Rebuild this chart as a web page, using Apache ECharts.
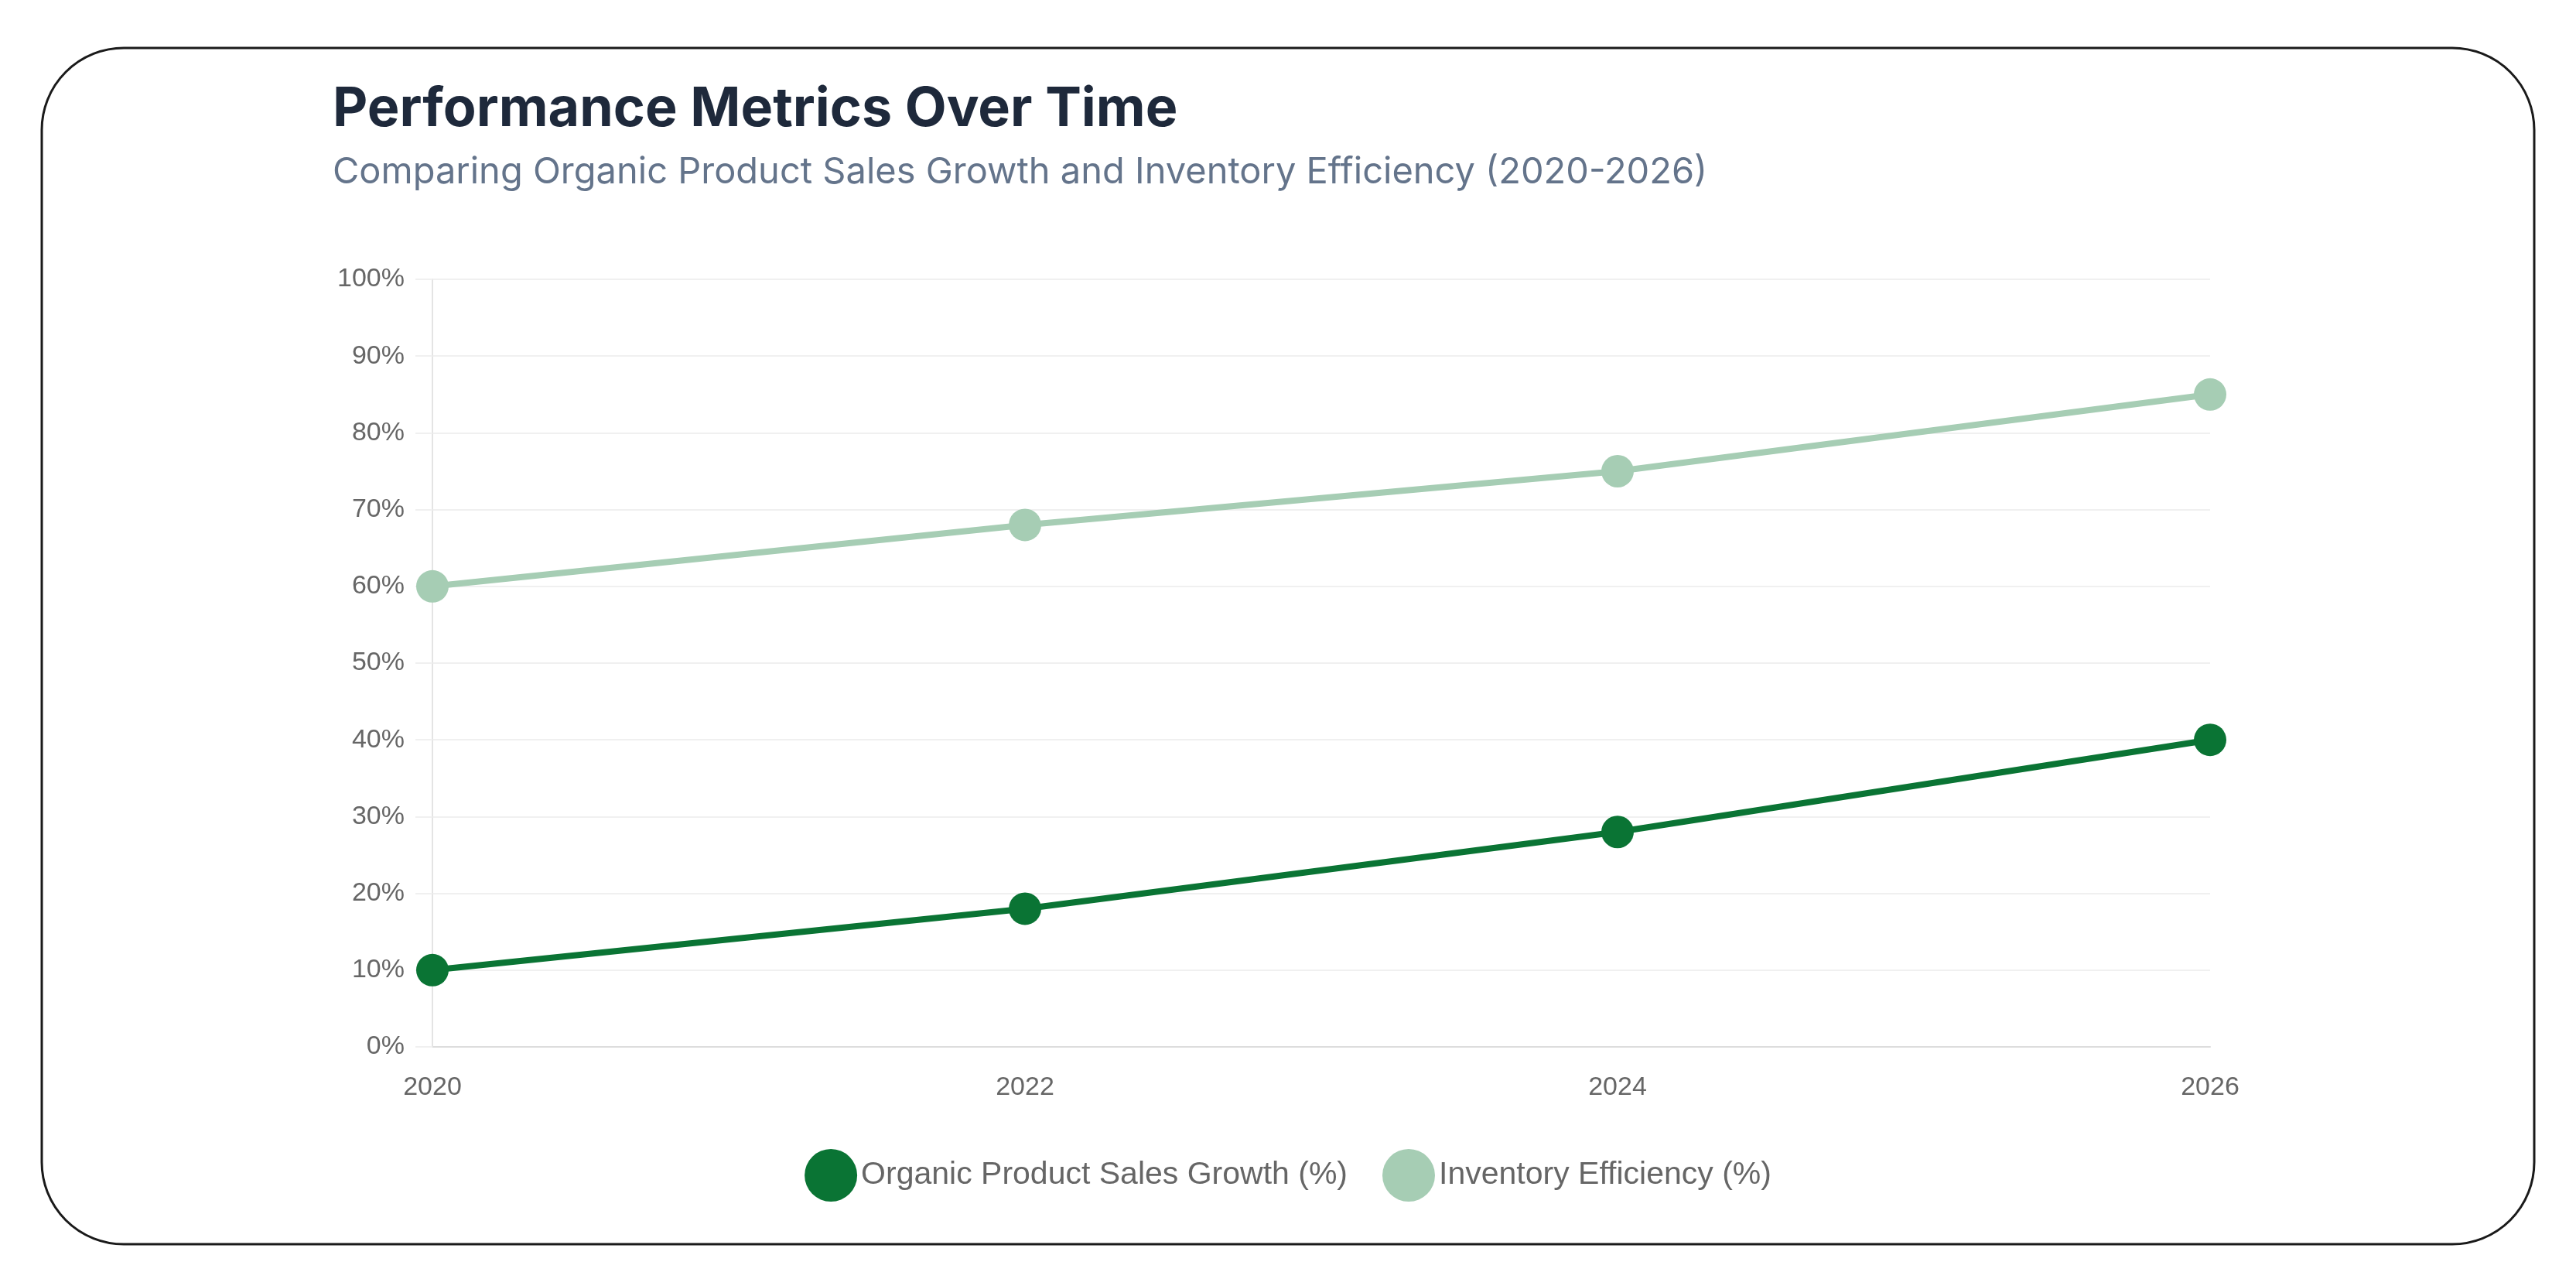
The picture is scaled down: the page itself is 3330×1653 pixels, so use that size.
<!DOCTYPE html>
<html>
<head>
<meta charset="utf-8">
<script src="https://cdn.jsdelivr.net/npm/echarts@6/dist/echarts.min.js"></script>
<style>
html,body{margin:0;padding:0;background:#fff;}
#chart{width:3330px;height:1653px;}
</style>
</head>
<body>
<div id="chart"></div>
<script>
const years = ['2020', '2022', '2024', '2026'];
const salesGrowth = [10, 18, 28, 40];
const inventoryEfficiency = [60, 68, 75, 85];
const seriesNames = ['Organic Product Sales Growth (%)', 'Inventory Efficiency (%)'];
const titleText = 'Performance Metrics Over Time';
const subtitleText = 'Comparing Organic Product Sales Growth and Inventory Efficiency (2020-2026)';

const chart = echarts.init(document.getElementById('chart'));
chart.setOption({
  backgroundColor: '#fff',
  animation: false,
  graphic: [{
    type: 'rect',
    shape: { x: 54, y: 62, width: 3222, height: 1546, r: 106 },
    style: { fill: 'none', stroke: '#1a1a1a', lineWidth: 3 }
  }],
  title: [{
    text: titleText,
    left: 425, top: 102,
    textStyle: { fontFamily: 'Inter', fontWeight: 'bold', fontSize: 70, color: '#1e293b' }
  }, {
    text: subtitleText,
    left: 425, top: 194,
    textStyle: { fontFamily: 'Inter', fontWeight: 'normal', fontSize: 47, color: '#64748b' }
  }],
  legend: {
    bottom: 95,
    left: 'center',
    icon: 'circle',
    itemWidth: 68,
    itemHeight: 68,
    itemGap: 45,
    textStyle: { fontFamily: 'Liberation Sans', fontSize: 41, color: '#666' },
    data: seriesNames
  },
  grid: { left: 559, right: 473, top: 361, bottom: 300, containLabel: false },
  xAxis: {
    type: 'category',
    data: years,
    boundaryGap: false,
    axisLine: { lineStyle: { color: '#dddddd', width: 2 } },
    axisTick: { show: false },
    splitLine: { show: false },
    axisLabel: { fontFamily: 'Liberation Sans', fontSize: 34, color: '#666', margin: 36 }
  },
  yAxis: {
    type: 'value',
    min: 0, max: 100, interval: 10,
    axisLine: { show: true, lineStyle: { color: '#e4e4e4', width: 2 } },
    axisTick: { show: true, length: 22, lineStyle: { color: '#f0f0f0', width: 2 } },
    splitLine: { lineStyle: { color: '#f0f0f0', width: 2 } },
    axisLabel: { fontFamily: 'Liberation Sans', fontSize: 34, color: '#666', margin: 36, formatter: '{value}%' }
  },
  series: [{
    name: seriesNames[0],
    type: 'line',
    data: salesGrowth,
    symbol: 'circle',
    symbolSize: 42,
    lineStyle: { color: '#0a7434', width: 8 },
    itemStyle: { color: '#0a7434' }
  }, {
    name: seriesNames[1],
    type: 'line',
    data: inventoryEfficiency,
    symbol: 'circle',
    symbolSize: 42,
    lineStyle: { color: '#a6cdb4', width: 8 },
    itemStyle: { color: '#a6cdb4' }
  }]
});
</script>
</body>
</html>
